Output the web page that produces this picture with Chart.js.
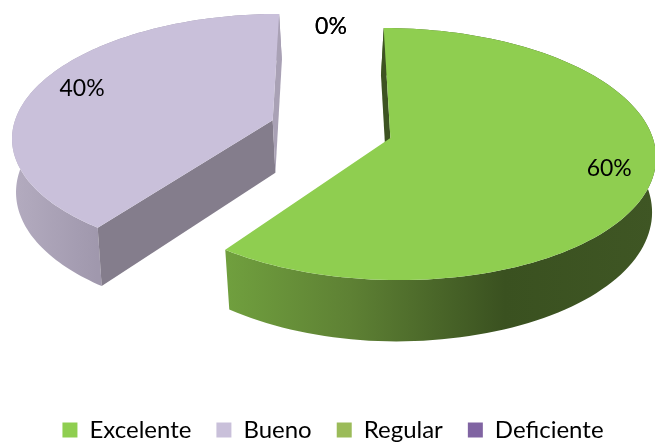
<!DOCTYPE html>
<html>
<head>
<meta charset="utf-8">
<style>html,body{margin:0;padding:0;background:#fff}canvas{display:block}</style>
<script src="https://cdn.jsdelivr.net/npm/chart.js@4"></script>
</head>
<body>
<canvas id="chart" width="655" height="443"></canvas>
<script>
const categories = ['Excelente', 'Bueno', 'Regular', 'Deficiente'];
const shares = [60, 40, 0, 0];
const topColors = ['#8FCE50', '#C9C0DA', '#9BBB59', '#8064A2'];

// Perspective camera for the tilted pie, in canvas pixels.
const camera = { offsetX: -2, horizon: -837, planeDrop: 966, radius: 260, tilt: 0.126, depth: 53, lean: 4 };
const explode = 0.238;
const wallStops = {
  0: [[228, '#709F3E'], [350, '#5E8134'], [505, '#3A5120'], [655, '#3F5624']],
  1: [[15, '#B3ABBF'], [97, '#A098AD'], [655, '#A098AD']]
};
const faceColors = { 0: ['#3D5322', '#3D5322'], 1: ['#847D8C', '#A9A1B5'] };
const labelReach = [0.84, 0.81, 0.94, 0.94];
const labelLift = 3;

function project(cx, px, pz, drop) {
  const s = 1 / (1 + camera.tilt * pz);
  const inward = Math.max(-1, Math.min(1, px * 3)) * camera.lean * drop;
  return {
    x: cx + px * camera.radius * s - inward,
    y: camera.horizon + (camera.planeDrop + camera.depth * drop) * s
  };
}

// Clockwise angle from twelve o'clock, taken from the arc element's own angle.
const turn = a => a + Math.PI / 2;

function rimPoint(cx, ex, ez, theta, r, drop) {
  return project(cx, ex + Math.sin(theta) * r, ez + Math.cos(theta) * r, drop);
}

function tracePath(ctx, pts) {
  ctx.beginPath();
  pts.forEach((p, i) => (i ? ctx.lineTo(p.x, p.y) : ctx.moveTo(p.x, p.y)));
  ctx.closePath();
}

function signedArea(pts) {
  return pts.reduce((sum, p, i) => {
    const q = pts[(i + 1) % pts.length];
    return sum + p.x * q.y - q.x * p.y;
  }, 0) / 2;
}

const pie3d = {
  id: 'pie3d',
  beforeDatasetDraw(chart, args) {
    const { ctx } = chart;
    const meta = args.meta;
    const total = shares.reduce((a, b) => a + b, 0);
    const order = meta.data.map((_, i) => i).sort((a, b) => b - a);

    order.forEach(i => {
      if (!shares[i]) return;
      const el = meta.data[i];
      const cx = el.x + camera.offsetX;
      const a0 = turn(el.startAngle), a1 = turn(el.endAngle);
      const mid = (a0 + a1) / 2;
      const ex = Math.sin(mid) * explode, ez = Math.cos(mid) * explode;
      const steps = 120;
      const top = [], bottom = [];
      for (let k = 0; k <= steps; k++) {
        const t = a0 + (a1 - a0) * k / steps;
        top.push(rimPoint(cx, ex, ez, t, 1, 0));
        bottom.push(rimPoint(cx, ex, ez, t, 1, 1));
      }
      const hubTop = project(cx, ex, ez, 0), hubLow = project(cx, ex, ez, 1);

      // outer wall
      const grad = ctx.createLinearGradient(0, 0, chart.width, 0);
      wallStops[i].forEach(([x, c]) => grad.addColorStop(x / chart.width, c));
      tracePath(ctx, top.concat(bottom.slice().reverse()));
      ctx.fillStyle = grad;
      ctx.fill();

      // cut faces, skipping whichever one turns away from the viewer
      [[top[0], bottom[0]], [top[steps], bottom[steps]]].forEach(([t, b], f) => {
        const quad = [hubTop, t, b, hubLow];
        if (signedArea(quad) * (f ? 1 : -1) <= 0) return;
        tracePath(ctx, quad);
        ctx.fillStyle = faceColors[i][f];
        ctx.fill();
      });

      // upper surface
      tracePath(ctx, [hubTop].concat(top));
      ctx.fillStyle = topColors[i];
      ctx.fill();
    });

    // percentage labels
    ctx.save();
    ctx.font = '23px Lato';
    ctx.fillStyle = '#000';
    ctx.textAlign = 'center';
    ctx.textBaseline = 'middle';
    meta.data.forEach((el, i) => {
      const cx = el.x + camera.offsetX;
      const mid = (turn(el.startAngle) + turn(el.endAngle)) / 2;
      const e = shares[i] ? explode : 0;
      const p = rimPoint(cx, Math.sin(mid) * e, Math.cos(mid) * e, mid, labelReach[i], 0);
      ctx.fillText(Math.round(shares[i] / total * 100) + '%', p.x, p.y - (shares[i] ? labelLift : 0));
    });
    ctx.restore();
    return false;
  }
};

new Chart(document.getElementById('chart'), {
  type: 'pie',
  data: { labels: categories, datasets: [{ data: shares, backgroundColor: topColors, borderWidth: 0 }] },
  options: {
    responsive: false,
    animation: false,
    layout: { padding: { left: 11, bottom: -9 } },
    plugins: {
      tooltip: { enabled: false },
      legend: {
        position: 'bottom',
        labels: { boxWidth: 15, boxHeight: 15, padding: 25, color: '#000', font: { family: 'Lato', size: 24 } }
      }
    }
  },
  plugins: [pie3d]
});
</script>
</body>
</html>
